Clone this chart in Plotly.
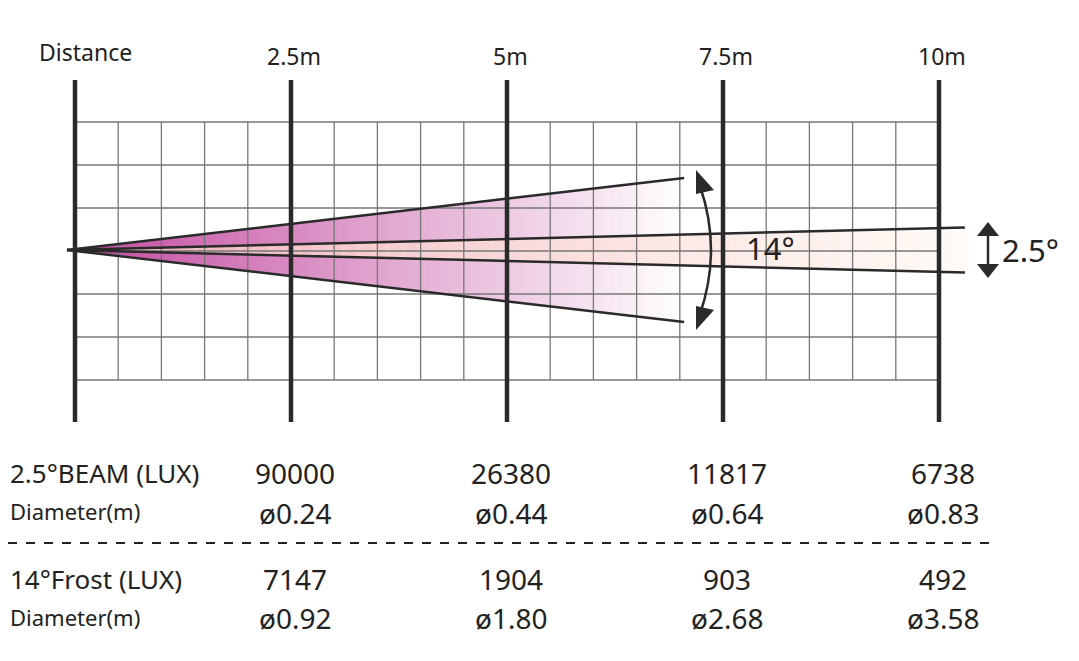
import plotly.graph_objects as go
import numpy as np

distances = [2.5, 5, 7.5, 10]
dist_labels = ["2.5m", "5m", "7.5m", "10m"]
beam_lux = ["90000", "26380", "11817", "6738"]
beam_diam = ["0.24", "0.44", "0.64", "0.83"]
frost_lux = ["7147", "1904", "903", "492"]
frost_diam = ["0.92", "1.80", "2.68", "3.58"]
beam_angle = 2.5
frost_angle = 14

X0, PX_M = 75, 86.4
def xm(m): return X0 + m * PX_M
YC = 250
frost_end = 7.05
beam_end = 10.3
frost_half = 72
beam_half = 22.5

fig = go.Figure()
shapes = []
for i in range(21):
    x = xm(i * 0.5)
    shapes.append(dict(type="line", x0=x, x1=x, y0=122, y1=380, line=dict(color="#777", width=1.3)))
for j in range(7):
    y = 122 + j * 43
    shapes.append(dict(type="line", x0=X0, x1=xm(10), y0=y, y1=y, line=dict(color="#777", width=1.3)))

def wedge(end, half, c0, c1, n=60, op=1.0):
    xe = xm(end)
    for k in range(n):
        t0, t1 = k / n, (k + 1) / n
        xa, xb = X0 + (xe - X0) * t0, X0 + (xe - X0) * (t1 + 0.004)
        ha, hb = half * t0, half * (t1 + 0.004)
        t = (t0 + t1) / 2
        c = [int(c0[i] + (c1[i] - c0[i]) * t) for i in range(3)]
        fig.add_trace(go.Scatter(x=[xa, xb, xb, xa, xa], y=[YC - ha, YC - hb, YC + hb, YC + ha, YC - ha],
                                 fill="toself", mode="none", fillcolor=f"rgba({c[0]},{c[1]},{c[2]},{op})",
                                 hoverinfo="skip", showlegend=False))

wedge(frost_end, frost_half, (195, 75, 160), (255, 255, 255))
wedge(beam_end, beam_half, (245, 190, 190), (255, 250, 245), op=0.85)

for half, end in [(frost_half, frost_end), (beam_half, beam_end)]:
    for s in (-1, 1):
        shapes.append(dict(type="line", x0=X0 - 8, y0=YC, x1=xm(end), y1=YC + s * half,
                           line=dict(color="#2a2a2a", width=2.5)))
for m in [0] + distances:
    shapes.append(dict(type="line", x0=xm(m), x1=xm(m), y0=80, y1=422, line=dict(color="#2a2a2a", width=4.5)))
shapes.append(dict(type="path", path="M 700,186 Q 722,250 700,314", line=dict(color="#2a2a2a", width=2.5)))
shapes.append(dict(type="path", path="M 696,170 L 714,190 L 696,194 Z", fillcolor="#2a2a2a", line=dict(width=0)))
shapes.append(dict(type="path", path="M 696,330 L 714,310 L 696,306 Z", fillcolor="#2a2a2a", line=dict(width=0)))
shapes.append(dict(type="line", x0=988, x1=988, y0=232, y1=268, line=dict(color="#2a2a2a", width=2.5)))
shapes.append(dict(type="path", path="M 977,236 L 988,222 L 999,236 Z", fillcolor="#2a2a2a", line=dict(width=0)))
shapes.append(dict(type="path", path="M 977,264 L 988,278 L 999,264 Z", fillcolor="#2a2a2a", line=dict(width=0)))
shapes.append(dict(type="line", x0=8, x1=990, y0=543, y1=543, line=dict(color="#222", width=2, dash="dash")))

ann = []
def T(x, y, s, size, anchor="center"):
    ann.append(dict(x=x, y=y, text=s, showarrow=False, xanchor=anchor, yanchor="middle",
                    font=dict(size=size, color="#222", family="Noto Sans")))
T(37, 52, "Distance", 23, "left")
for m, l in zip(distances, dist_labels):
    T(xm(m) + 3, 56, l, 23)
T(744, 248, f"{frost_angle}°", 31, "left")
T(1000, 250, f"{beam_angle}°", 31, "left")
T(8, 473, "2.5°BEAM (LUX)", 26, "left")
T(8, 511, "Diameter(m)", 22, "left")
T(8, 579, "14°Frost (LUX)", 26, "left")
T(8, 617, "Diameter(m)", 22, "left")
for m, a, b, c, d in zip(distances, beam_lux, beam_diam, frost_lux, frost_diam):
    x = xm(m) + 4
    T(x, 473, a, 28); T(x, 513, "ø" + b, 28); T(x, 579, c, 28); T(x, 618, "ø" + d, 28)

# offset ranges by 8px to compensate for page body margin
fig.update_layout(width=1079, height=661, margin=dict(l=0, r=0, t=0, b=0),
                  plot_bgcolor="white", paper_bgcolor="white", shapes=shapes, annotations=ann,
                  xaxis=dict(range=[8, 1087], visible=False, fixedrange=True),
                  yaxis=dict(range=[669, 8], visible=False, fixedrange=True))
fig.write_html("out.html")
